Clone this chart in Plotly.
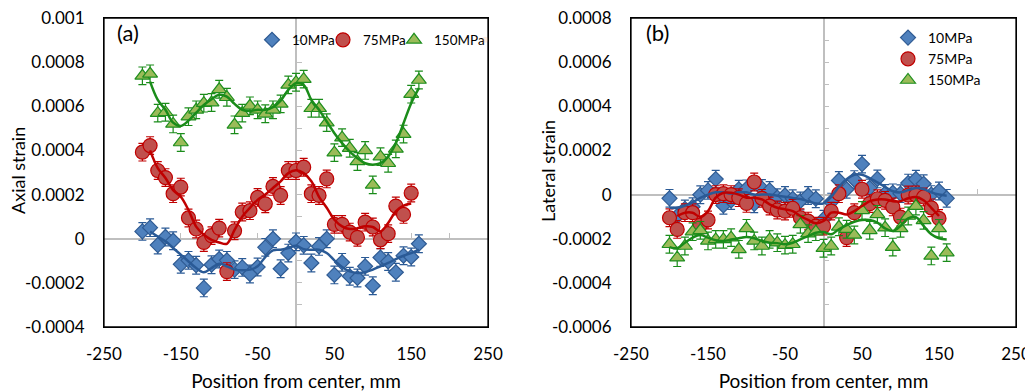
import plotly.graph_objects as go

# ---------------- data ----------------
X = [-200, -190, -180, -170, -160, -150, -140, -130, -120, -110,
     -100, -90, -80, -70, -60, -50, -40, -30, -20, -10,
     0, 10, 20, 30, 40, 50, 60, 70, 80, 90,
     100, 110, 120, 130, 140, 150, 160]
X_75 = [-200, -190, -180, -170, -160, -150, -140, -130, -120, -110,
        -100, -90, -80, -70, -60, -50, -40, -30, -20, -10,
        0, 10, 20, 30, 40, 50, 60, 70, 80, 90,
        100, 110, 120, 130, 140, 150]

# (a) axial strain
A_10 = [3.3e-5, 5.0e-5, -2.9e-5, 0.8e-5, -0.9e-5, -11.6e-5, -9.8e-5, -12.0e-5, -22.3e-5, -11.8e-5,
        -9.2e-5, -9.8e-5, -14.0e-5, -13.0e-5, -16.0e-5, -12.8e-5, -3.9e-5, 0.0, -13.6e-5, -6.5e-5,
        -1.4e-5, -3.0e-5, -11.0e-5, -3.5e-5, 0.0, -16.4e-5, -10.7e-5, -17.0e-5, -17.8e-5, -12.5e-5,
        -21.3e-5, -8.5e-5, -10.3e-5, -15.2e-5, -7.7e-5, -8.3e-5, -2.3e-5]
A_75 = [3.92e-4, 4.22e-4, 3.09e-4, 2.77e-4, 2.04e-4, 2.34e-4, 0.94e-4, 0.44e-4, -0.17e-4, 0.14e-4,
        0.48e-4, -1.49e-4, 0.36e-4, 1.21e-4, 1.27e-4, 1.87e-4, 1.58e-4, 2.37e-4, 1.96e-4, 3.09e-4,
        3.09e-4, 3.24e-4, 2.04e-4, 1.96e-4, 2.71e-4, 0.65e-4, 0.65e-4, 0.30e-4, 0.06e-4, 0.75e-4,
        0.53e-4, -0.05e-4, 0.23e-4, 1.48e-4, 1.10e-4, 2.07e-4]
A_150 = [7.38e-4, 7.47e-4, 5.69e-4, 5.73e-4, 5.20e-4, 4.36e-4, 5.53e-4, 5.84e-4, 6.14e-4, 6.17e-4,
         6.77e-4, 6.41e-4, 5.16e-4, 5.69e-4, 6.02e-4, 5.84e-4, 5.66e-4, 5.84e-4, 6.11e-4, 6.97e-4,
         7.09e-4, 7.23e-4, 5.91e-4, 5.91e-4, 5.26e-4, 3.90e-4, 4.58e-4, 4.10e-4, 3.50e-4, 4.00e-4,
         2.44e-4, 3.72e-4, 3.42e-4, 4.07e-4, 4.74e-4, 6.55e-4, 7.19e-4]

# (a) trend lines (moving-average curves)
XT_A = [-190, -180, -170, -160, -150, -140, -130, -120, -110, -100,
        -90, -80, -70, -60, -50, -40, -30, -20, -10, 0,
        10, 20, 30, 40, 50, 60, 70, 80, 90, 100,
        110, 120, 130, 140, 150, 160]
XT_A75 = [-190, -180, -170, -160, -150, -140, -130, -120, -110, -100,
          -90, -80, -70, -60, -50, -40, -30, -20, -10, 0,
          10, 20, 30, 40, 50, 60, 70, 80, 90, 100,
          110, 120, 130, 140, 150]
TA_10 = [0.33e-4, 0.10e-4, -0.12e-4, -0.42e-4, -0.72e-4, -1.03e-4, -1.33e-4, -1.52e-4, -1.33e-4, -1.13e-4,
         -1.25e-4, -1.40e-4, -1.43e-4, -1.40e-4, -1.25e-4, -0.83e-4, -0.53e-4, -0.50e-4, -0.42e-4, -0.32e-4,
         -0.47e-4, -0.50e-4, -0.50e-4, -0.65e-4, -0.98e-4, -1.28e-4, -1.48e-4, -1.55e-4, -1.52e-4, -1.40e-4,
         -1.25e-4, -1.10e-4, -0.92e-4, -0.77e-4, -0.65e-4, -0.50e-4]
TA_75 = [4.0e-4, 3.2e-4, 2.75e-4, 2.2e-4, 1.9e-4, 1.3e-4, 0.55e-4, 0.18e-4, -0.05e-4, -0.17e-4,
         -0.23e-4, 0.4e-4, 1.0e-4, 1.4e-4, 1.76e-4, 2.0e-4, 2.3e-4, 2.6e-4, 2.97e-4, 3.1e-4,
         2.97e-4, 2.6e-4, 1.9e-4, 1.4e-4, 0.86e-4, 0.56e-4, 0.44e-4, 0.48e-4, 0.56e-4, 0.53e-4,
         0.33e-4, 0.71e-4, 1.24e-4, 1.5e-4, 1.6e-4]
TA_150 = [7.12e-4, 6.29e-4, 5.84e-4, 5.26e-4, 5.11e-4, 5.35e-4, 5.71e-4, 6.06e-4, 6.32e-4, 6.52e-4,
          6.44e-4, 6.11e-4, 5.84e-4, 5.79e-4, 5.84e-4, 5.84e-4, 5.96e-4, 6.26e-4, 6.74e-4, 7.04e-4,
          6.97e-4, 6.29e-4, 5.84e-4, 5.31e-4, 4.78e-4, 4.33e-4, 3.95e-4, 3.65e-4, 3.42e-4, 3.35e-4,
          3.42e-4, 3.72e-4, 4.33e-4, 5.23e-4, 6.14e-4, 6.82e-4]

# (b) lateral strain
B_10 = [-0.17e-4, -0.97e-4, -0.65e-4, -0.55e-4, -0.01e-4, 0.19e-4, 0.70e-4, -0.49e-4, -0.27e-4, 0.24e-4,
        0.26e-4, -0.42e-4, 0.28e-4, 0.19e-4, -0.14e-4, -0.04e-4, -0.19e-4, -0.29e-4, -0.04e-4, -0.19e-4,
        -1.12e-4, -0.34e-4, 0.64e-4, 0.24e-4, 0.68e-4, 1.38e-4, 0.30e-4, 0.71e-4, 0.05e-4, 0.08e-4,
        0.04e-4, 0.52e-4, 0.70e-4, 0.49e-4, 0.0, 0.16e-4, -0.17e-4]
B_75 = [-1.05e-4, -1.58e-4, -0.82e-4, -0.82e-4, -1.38e-4, -1.15e-4, 0.0, 0.04e-4, 0.0, -0.14e-4,
        -0.40e-4, 0.57e-4, -0.17e-4, -0.52e-4, -0.70e-4, -0.75e-4, -0.62e-4, -1.05e-4, -1.20e-4, -1.43e-4,
        -1.43e-4, -0.75e-4, 0.04e-4, -1.95e-4, -0.82e-4, 0.24e-4, -0.41e-4, -0.19e-4, -0.26e-4, -0.56e-4,
        -1.02e-4, -0.02e-4, -0.02e-4, -0.11e-4, -0.60e-4, -1.08e-4]
B_150 = [-2.25e-4, -2.86e-4, -2.33e-4, -1.68e-4, -1.62e-4, -2.10e-4, -2.03e-4, -2.03e-4, -1.95e-4, -2.48e-4,
         -1.53e-4, -2.10e-4, -2.33e-4, -2.03e-4, -2.18e-4, -2.29e-4, -2.25e-4, -1.35e-4, -1.77e-4, -1.68e-4,
         -2.43e-4, -2.33e-4, -1.46e-4, -1.57e-4, -1.83e-4, -0.72e-4, -1.62e-4, -0.90e-4, -1.50e-4, -2.38e-4,
         -1.53e-4, -0.97e-4, -0.52e-4, -1.17e-4, -2.78e-4, -1.53e-4, -2.63e-4]

XT_B75 = [-190, -180, -170, -160, -150, -140, -130, -120, -110, -100,
          -90, -80, -70, -60, -50, -40, -30, -20, -10, 0,
          10, 20, 30, 40, 50, 60, 70, 80, 90, 100,
          110, 120, 130, 140, 150]
TB_10 = [-0.6e-4, -0.6e-4, -0.5e-4, -0.35e-4, -0.15e-4, 0.0, 0.1e-4, 0.1e-4, 0.05e-4, 0.1e-4,
         0.1e-4, 0.0, 0.0, 0.0, -0.05e-4, -0.1e-4, -0.15e-4, -0.2e-4, -0.3e-4, -0.4e-4,
         -0.4e-4, -0.1e-4, 0.35e-4, 0.7e-4, 0.9e-4, 0.9e-4, 0.75e-4, 0.55e-4, 0.35e-4, 0.15e-4,
         0.1e-4, 0.2e-4, 0.3e-4, 0.25e-4, 0.1e-4, 0.0, -0.05e-4]
TB_75 = [-0.97e-4, -0.82e-4, -0.82e-4, -1.02e-4, -0.75e-4, -0.14e-4, 0.08e-4, 0.08e-4, 0.0, -0.14e-4,
         -0.14e-4, -0.22e-4, -0.44e-4, -0.60e-4, -0.67e-4, -0.75e-4, -0.97e-4, -1.15e-4, -1.30e-4, -1.2e-4,
         -0.82e-4, -0.82e-4, -0.90e-4, -0.75e-4, -0.52e-4, -0.30e-4, -0.22e-4, -0.22e-4, -0.30e-4, -0.30e-4,
         -0.17e-4, -0.11e-4, -0.26e-4, -0.60e-4, -0.97e-4]
TB_150 = [-2.38e-4, -2.43e-4, -2.18e-4, -1.95e-4, -1.83e-4, -1.95e-4, -2.07e-4, -2.10e-4, -2.04e-4, -1.98e-4,
          -1.92e-4, -1.98e-4, -2.10e-4, -2.18e-4, -2.20e-4, -2.25e-4, -2.18e-4, -2.03e-4, -1.88e-4, -1.73e-4,
          -1.70e-4, -1.80e-4, -1.57e-4, -1.38e-4, -1.23e-4, -1.15e-4, -1.15e-4, -1.27e-4, -1.53e-4, -1.65e-4,
          -1.42e-4, -1.08e-4, -1.02e-4, -1.42e-4, -1.80e-4, -1.98e-4, -2.03e-4]

ERR = 4e-5
SERIES_NAMES = ["10MPa", "75MPa", "150MPa"]

X_TICKS = [-250, -150, -50, 50, 150, 250]
X_TICKTEXT = ["-250", "-150", "-50", "50", "150", "250"]
YA_TICKS = [-0.0004, -0.0002, 0, 0.0002, 0.0004, 0.0006, 0.0008, 0.001]
YA_TICKTEXT = ["-0.0004", "-0.0002", "0", "0.0002", "0.0004", "0.0006", "0.0008", "0.001"]
YB_TICKS = [-0.0006, -0.0004, -0.0002, 0, 0.0002, 0.0004, 0.0006, 0.0008]
YB_TICKTEXT = ["-0.0006", "-0.0004", "-0.0002", "0", "0.0002", "0.0004", "0.0006", "0.0008"]

# ---------------- style / layout ----------------
FONT = "Lato, 'Open Sans', sans-serif"
OX, OY = 8, 8            # default page margin around the plot div
FW, FH = 1025, 384       # figure size so that it fills the 1033x392 window
STYLES = [
    dict(symbol="diamond", size=11.5, fill="#4f81bd", edge="#2f5b93", line="#2a5a96"),
    dict(symbol="circle", size=14, fill="#c0504d", edge="#c00000", line="#c00000"),
    dict(symbol="triangle-up", size=13, fill="#9bbb59", edge="#1f8f1f", line="#1a8c1a"),
]


def sx(v):  # screen x (px) -> paper
    return (v - OX) / FW


def sy(v):  # screen y (px) -> paper
    return 1 - (v - OY) / FH


XA_RANGE = [-250, 250]
YA_RANGE = [-0.0004, 0.001]
YB_RANGE = [-0.0006, 0.0008]
DOM_AX = [sx(104), sx(488)]
DOM_BX = [sx(631), sx(1016)]
DOM_Y = [sy(327), sy(18)]

TICK_SIZE = 17
XTITLE_SIZE = 19
YTITLE_SIZE = 18


def paper_pos(dom, rng, v=0.0):
    return dom[0] + (v - rng[0]) / (rng[1] - rng[0]) * (dom[1] - dom[0])


fig = go.Figure()

# dummy traces for the base (zero-crossing axis) subplots
fig.add_trace(go.Scatter(x=[None], y=[None], xaxis="x", yaxis="y", showlegend=False, hoverinfo="skip"))
fig.add_trace(go.Scatter(x=[None], y=[None], xaxis="x2", yaxis="y2", showlegend=False, hoverinfo="skip"))


def add_panel(xs_list, ys_list, txs_list, tys_list, xa, ya, legend):
    for st, xs, ys, name in zip(STYLES, xs_list, ys_list, SERIES_NAMES):
        fig.add_trace(go.Scatter(
            x=xs, y=ys, mode="markers", name=name, xaxis=xa, yaxis=ya, legend=legend,
            marker=dict(symbol=st["symbol"], size=st["size"], color=st["fill"],
                        line=dict(color=st["edge"], width=1.2)),
            error_y=dict(type="constant", value=ERR, color=st["line"], thickness=1.2, width=4),
        ))
    for st, txs, tys in zip(STYLES, txs_list, tys_list):
        fig.add_trace(go.Scatter(
            x=txs, y=tys, mode="lines", xaxis=xa, yaxis=ya, showlegend=False, hoverinfo="skip",
            line=dict(color=st["line"], width=2.5, shape="spline", smoothing=1.0),
        ))


add_panel([X, X_75, X], [A_10, A_75, A_150], [XT_A, XT_A75, XT_A], [TA_10, TA_75, TA_150],
          "x3", "y3", "legend")
add_panel([X, X_75, X], [B_10, B_75, B_150], [X, XT_B75, X], [TB_10, TB_75, TB_150],
          "x4", "y4", "legend2")

# invisible spacer entry so the compact horizontal legend does not clip its last label
fig.add_trace(go.Scatter(x=[None], y=[None], mode="markers", name=" ", xaxis="x3", yaxis="y3",
                         legend="legend", marker=dict(opacity=0), hoverinfo="skip"))

GRAY = "#bfbfbf"
zero_common = dict(showgrid=False, zeroline=False, showticklabels=False, showline=True,
                   linecolor=GRAY, linewidth=1.5, ticks="inside", ticklen=5, tickcolor=GRAY,
                   tickwidth=1.2, layer="below traces", automargin=False)
box_common = dict(showgrid=False, zeroline=False, showline=True, mirror=True, linecolor="black",
                  linewidth=1, ticks="", automargin=False, ticklabeloverflow="allow",
                  tickfont=dict(family=FONT, size=TICK_SIZE, color="black"))
xtitle = dict(text="Position from center, mm", font=dict(family=FONT, size=XTITLE_SIZE), standoff=13)

# frame of each plot area (relative to the axis domains)
frames = [dict(type="rect", xref=f"{xr} domain", yref=f"{yr} domain", x0=0, x1=1, y0=0, y1=1,
               line=dict(color="black", width=1.3), fillcolor="rgba(0,0,0,0)", layer="above")
          for xr, yr in (("x3", "y3"), ("x4", "y4"))]

fig.update_layout(
    width=FW, height=FH,
    margin=dict(l=0, r=0, t=0, b=0, autoexpand=False),
    paper_bgcolor="white", plot_bgcolor="white",
    font=dict(family=FONT, color="black"),
    shapes=frames,
    # base subplots: axes crossing at zero (gray, with ticks)
    xaxis=dict(domain=DOM_AX, range=XA_RANGE, anchor="free",
               position=paper_pos(DOM_Y, YA_RANGE), tick0=0, dtick=50, **zero_common),
    yaxis=dict(domain=DOM_Y, range=YA_RANGE, anchor="free",
               position=paper_pos(DOM_AX, XA_RANGE), tick0=0, dtick=0.0001, **zero_common),
    xaxis2=dict(domain=DOM_BX, range=XA_RANGE, anchor="free",
                position=paper_pos(DOM_Y, YB_RANGE), tick0=0, dtick=50, **zero_common),
    yaxis2=dict(domain=DOM_Y, range=YB_RANGE, anchor="free",
                position=paper_pos(DOM_BX, XA_RANGE), tick0=0, dtick=0.0001, **zero_common),
    # overlay subplots: framed box with labels, data on top
    xaxis3=dict(domain=DOM_AX, range=XA_RANGE, overlaying="x", anchor="y3", side="bottom",
                tickvals=X_TICKS, ticktext=X_TICKTEXT, ticklabelstandoff=12, title=xtitle,
                **box_common),
    yaxis3=dict(domain=DOM_Y, range=YA_RANGE, overlaying="y", anchor="x3", side="left",
                tickvals=YA_TICKS, ticktext=YA_TICKTEXT, ticklabelstandoff=15, **box_common),
    xaxis4=dict(domain=DOM_BX, range=XA_RANGE, overlaying="x2", anchor="y4", side="bottom",
                tickvals=X_TICKS, ticktext=X_TICKTEXT, ticklabelstandoff=12, title=xtitle,
                **box_common),
    yaxis4=dict(domain=DOM_Y, range=YB_RANGE, overlaying="y2", anchor="x4", side="left",
                tickvals=YB_TICKS, ticktext=YB_TICKTEXT, ticklabelstandoff=15, **box_common),
    legend=dict(orientation="h", x=sx(252), xanchor="left", y=sy(40), yanchor="middle",
                bgcolor="rgba(0,0,0,0)", font=dict(family=FONT, size=13.5), itemwidth=30,
                entrywidth=26, entrywidthmode="pixels", tracegroupgap=0),
    legend2=dict(orientation="v", x=sx(888), xanchor="left", y=sy(22), yanchor="top",
                 bgcolor="rgba(0,0,0,0)", font=dict(family=FONT, size=14), itemwidth=30,
                 tracegroupgap=0),
    annotations=[
        dict(text="(a)", xref="paper", yref="paper", x=sx(115), y=sy(33), xanchor="left",
             yanchor="middle", showarrow=False, font=dict(family=FONT, size=22, color="black")),
        dict(text="(b)", xref="paper", yref="paper", x=sx(644), y=sy(33), xanchor="left",
             yanchor="middle", showarrow=False, font=dict(family=FONT, size=22, color="black")),
        dict(text="Axial strain", xref="paper", yref="paper", x=sx(18), y=sy(171), textangle=-90,
             xanchor="center", yanchor="middle", showarrow=False,
             font=dict(family=FONT, size=YTITLE_SIZE, color="black")),
        dict(text="Lateral strain", xref="paper", yref="paper", x=sx(548), y=sy(171), textangle=-90,
             xanchor="center", yanchor="middle", showarrow=False,
             font=dict(family=FONT, size=YTITLE_SIZE, color="black")),
    ],
    showlegend=True,
)

fig.write_html("out.html")
